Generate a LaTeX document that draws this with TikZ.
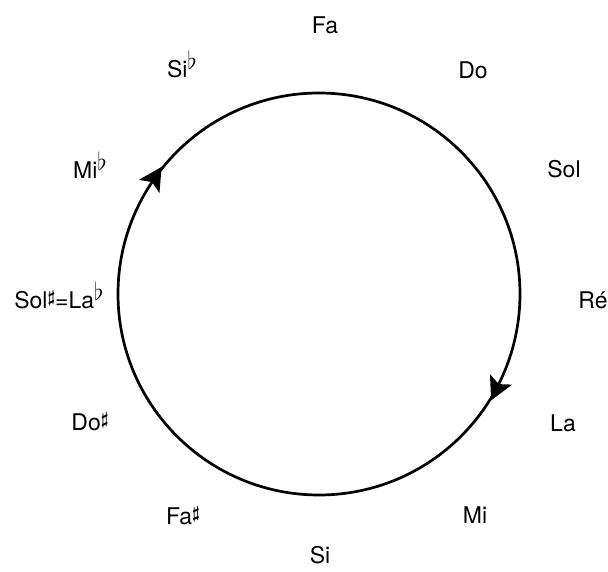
\documentclass[tikz,border=0pt]{standalone}
\usepackage{fontspec}
\setmainfont{TeX Gyre Heros}
\usetikzlibrary{arrows.meta,decorations.markings,calc}

\tikzset{
  note/.style={font=\fontsize{23}{27}\selectfont,inner sep=0pt,anchor=base},
  quint/.style={line width=2.7pt,postaction=decorate,
    decoration={markings,
      mark=at position 0.41 with {\arrow{Stealth[length=23pt,width=24pt,inset=5pt,reversed]}},
      mark=at position 0.93 with {\arrow{Stealth[length=23pt,width=24pt,inset=5pt,reversed]}}}}
}
\newcommand{\shp}{\raisebox{6pt}{\fontsize{17}{17}\selectfont\boldmath$\sharp$}}
\newcommand{\flt}{\raisebox{8pt}{\fontsize{25}{25}\selectfont$\flat$}}

\begin{document}
\begin{tikzpicture}[x=1pt,y=1pt]
  \useasboundingbox (-319,-277) rectangle (289,294);
  \coordinate (c) at (0,0);
  \draw[quint] (c) circle[radius=201];
  % the twelve keys
  \foreach \px/\py/\id/\txt in {6/261/fa/Fa, 154/216/do/Do, 245/117/sol/Sol, 274/-14/re/Ré,
      244/-137/la/La, 156/-229/mi/Mi, 1/-269/si/Si, -136/-230/fis/Fa\shp,
      -229/-136/cis/Do\shp, -260/-14/gis/Sol\shp=La\flt, -229/116/es/Mi\flt, -137/217/b/Si\flt}
    \node[note] (\id) at ($(c)+(\px,\py)$) {\txt};
\end{tikzpicture}
\end{document}
